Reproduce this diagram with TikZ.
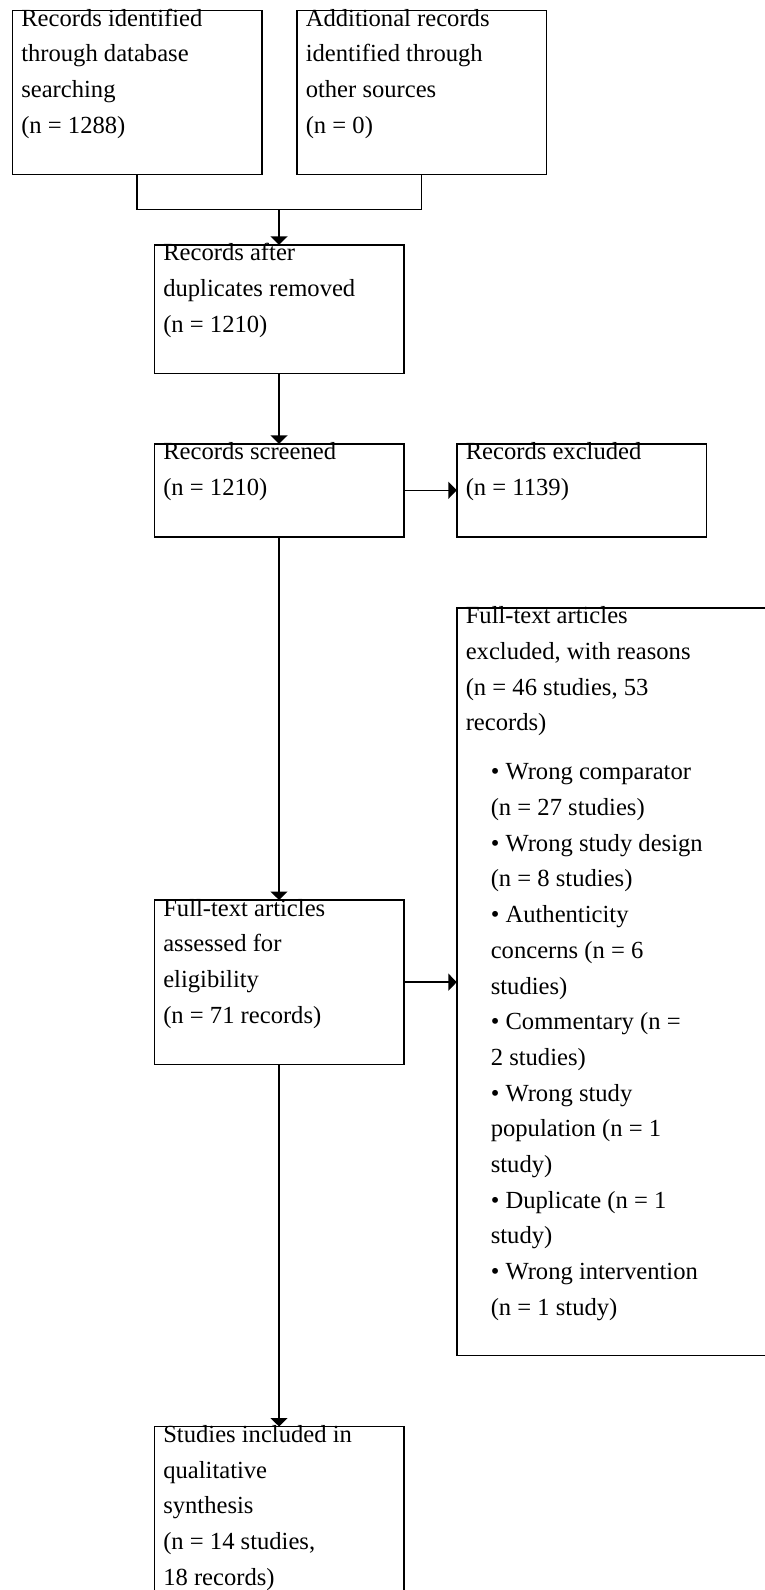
\documentclass[tikz,border=0pt]{standalone}
\usepackage{fontspec}
\setmainfont{Liberation Serif}
\usetikzlibrary{arrows.meta}
\tikzset{
  box/.style={draw=black, line width=1.4pt, rectangle, anchor=north west, inner sep=0pt, outer sep=0pt},
  txt/.style={anchor=base west, inner sep=0pt, outer sep=0pt, align=left, font=\fontsize{24.6}{35.7}\selectfont},
  conn/.style={draw=black, line width=1.5pt},
  arr/.style={conn, -{Triangle[width=17pt,length=8.5pt]}}
}
\begin{document}
\begin{tikzpicture}[x=1pt,y=-1pt]
\useasboundingbox (0,0) rectangle (765,1590);
\clip (0,0) rectangle (765,1590);
\fill[white] (0,0) rectangle (765,1590);
% boxes
\node[box, minimum width=249.5pt, minimum height=164.3pt] (b1) at (12.3,10.2) {};
\node[box, minimum width=249.5pt, minimum height=164.3pt] (b2) at (296.8,10.2) {};
\node[box, minimum width=249.5pt, minimum height=128.6pt] (b3) at (154.3,244.8) {};
\node[box, minimum width=249.5pt, minimum height=93pt] (b4) at (154.3,443.8) {};
\node[box, minimum width=249.5pt, minimum height=93pt] (b5) at (456.8,443.8) {};
\node[box, minimum width=400pt, minimum height=747.7pt] (b7) at (456.8,607.8) {};
\node[box, minimum width=249.5pt, minimum height=164.3pt] (b6) at (154.3,900) {};
\node[box, minimum width=249.5pt, minimum height=250pt] (b8) at (154.3,1426.5) {};
% texts (base anchor = baseline of the last line)
\node[txt] (t1) at ([xshift=9pt,yshift=-123.1pt]b1.north west) {Records identified\\through database\\searching\\(n = 1288)};
\node[txt] (t2) at ([xshift=9pt,yshift=-123.1pt]b2.north west) {Additional records\\identified through\\other sources\\(n = 0)};
\node[txt] (t3) at ([xshift=9pt,yshift=-87.4pt]b3.north west) {Records after\\duplicates removed\\(n = 1210)};
\node[txt] (t4) at ([xshift=9pt,yshift=-51.7pt]b4.north west) {Records screened\\(n = 1210)};
\node[txt] (t5) at ([xshift=9pt,yshift=-51.7pt]b5.north west) {Records excluded\\(n = 1139)};
\node[txt] (t7a) at ([xshift=9pt,yshift=-123.1pt]b7.north west) {Full-text articles\\excluded, with reasons\\(n = 46 studies, 53\\records)};
\node[txt] (t7b) at ([xshift=34pt,yshift=-707.5pt]b7.north west) {• Wrong comparator\\(n = 27 studies)\\• Wrong study design\\(n = 8 studies)\\• Authenticity\\concerns (n = 6\\studies)\\• Commentary (n =\\2 studies)\\• Wrong study\\population (n = 1\\study)\\• Duplicate (n = 1\\study)\\• Wrong intervention\\(n = 1 study)};
\node[txt] (t6) at ([xshift=9pt,yshift=-123.1pt]b6.north west) {Full-text articles\\assessed for\\eligibility\\(n = 71 records)};
\node[txt] (t8) at ([xshift=9pt,yshift=-158.8pt]b8.north west) {Studies included in\\qualitative\\synthesis\\(n = 14 studies,\\18 records)};
% connectors
\coordinate (jn) at (279.05,209.5);
\draw[conn] (b1.south) |- (jn) -| (b2.south);
\draw[arr] (jn) -- (b3.north);
\draw[arr] (b3.south) -- (b4.north);
\draw[arr] (b4.east) -- (b5.west);
\draw[arr] (b4.south) -- (b6.north);
\draw[arr] (b6.east) -- (b6.east -| b7.west);
\draw[arr] (b6.south) -- (b8.north);
\end{tikzpicture}
\end{document}
